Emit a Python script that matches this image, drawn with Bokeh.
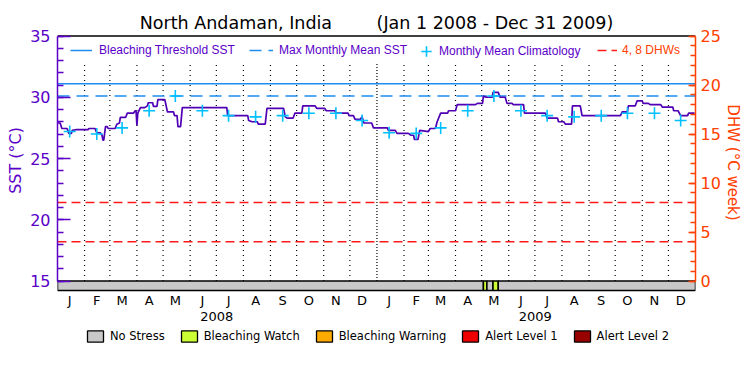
import pandas as pd
from bokeh.plotting import figure
from bokeh.models import (Range1d, LinearAxis, FixedTicker, Legend,
                          LegendItem, ColumnDataSource)
from bokeh.core.properties import value
from bokeh.embed import file_html
from bokeh.resources import INLINE

# ---------------- data ----------------
title_site = "North Andaman, India"
title_period = "(Jan 1 2008 - Dec 31 2009)"

sst_dates = [
    "2008-01-01", "2008-01-04", "2008-01-06", "2008-01-12", "2008-01-14", "2008-01-17",
    "2008-01-18", "2008-01-22", "2008-02-05", "2008-02-06", "2008-02-13", "2008-02-15",
    "2008-02-19", "2008-02-21", "2008-02-22", "2008-02-23", "2008-02-25", "2008-02-27",
    "2008-02-28", "2008-03-07", "2008-03-09", "2008-03-12", "2008-03-13", "2008-03-19",
    "2008-03-21", "2008-03-28", "2008-03-30", "2008-03-31", "2008-04-01", "2008-04-02",
    "2008-04-05", "2008-04-10", "2008-04-13", "2008-04-14", "2008-04-19", "2008-04-20",
    "2008-04-24", "2008-04-25", "2008-05-03", "2008-05-06", "2008-05-13", "2008-05-14",
    "2008-05-17", "2008-05-18", "2008-05-21", "2008-05-23", "2008-07-13", "2008-07-14",
    "2008-08-06", "2008-08-07", "2008-08-11", "2008-08-17", "2008-08-18", "2008-08-26",
    "2008-08-28", "2008-09-16", "2008-09-18", "2008-09-20", "2008-09-27", "2008-09-29",
    "2008-10-07", "2008-10-08", "2008-10-22", "2008-10-24", "2008-11-02", "2008-11-04",
    "2008-11-14", "2008-11-15", "2008-11-29", "2008-11-30", "2008-12-05", "2008-12-07",
    "2008-12-13", "2008-12-15", "2008-12-17", "2008-12-26", "2008-12-28",
    "2009-01-13", "2009-01-14", "2009-01-22", "2009-01-24", "2009-02-06", "2009-02-09",
    "2009-02-12", "2009-02-13", "2009-02-17", "2009-02-19", "2009-03-01", "2009-03-03",
    "2009-03-09", "2009-03-11", "2009-03-15", "2009-03-23", "2009-03-24", "2009-04-01",
    "2009-04-03", "2009-04-24", "2009-04-26", "2009-05-02", "2009-05-03", "2009-05-06",
    "2009-05-13", "2009-05-14", "2009-05-20", "2009-05-22", "2009-05-28", "2009-05-30",
    "2009-06-05", "2009-06-06", "2009-06-18", "2009-06-19", "2009-07-13", "2009-07-15",
    "2009-07-27", "2009-07-28", "2009-08-03", "2009-08-05", "2009-08-12", "2009-08-13",
    "2009-08-22", "2009-08-24", "2009-10-07", "2009-10-09", "2009-10-15", "2009-10-16",
    "2009-10-24", "2009-10-26", "2009-11-01", "2009-11-02", "2009-11-08", "2009-11-10",
    "2009-11-22", "2009-11-24", "2009-12-06", "2009-12-07", "2009-12-12", "2009-12-15",
    "2009-12-23", "2009-12-24", "2009-12-31",
]
sst_values = [
    27.9, 27.9, 27.45, 27.45, 27.05, 27.05,
    27.3, 27.35, 27.35, 27.45, 27.45, 27.1,
    27.1, 26.9, 26.5, 26.5, 27.6, 27.6,
    27.45, 27.45, 27.8, 27.9, 28.35, 28.35,
    28.7, 28.7, 28.9, 28.9, 27.7, 28.7,
    29.15, 29.15, 29.3, 29.55, 29.55, 29.25,
    29.25, 29.8, 29.8, 28.8, 28.8, 28.5,
    28.5, 27.6, 27.6, 29.15, 29.15, 28.5,
    28.5, 28.1, 28.0, 28.0, 27.8, 27.8,
    29.1, 29.1, 28.4, 28.3, 28.3, 28.7,
    28.7, 29.3, 29.3, 29.1, 29.1, 28.9,
    28.9, 28.7, 28.7, 28.5, 28.5, 28.2,
    28.2, 28.4, 27.9, 27.9, 27.5,
    27.5, 27.3, 27.3, 27.05, 27.05, 26.9,
    26.9, 26.55, 26.55, 27.3, 27.2, 27.45,
    27.45, 28.0, 28.7, 28.7, 28.9, 28.9,
    29.4, 29.4, 29.5, 29.5, 30.1, 30.0,
    30.0, 30.4, 30.4, 30.0, 30.0, 29.5,
    29.5, 29.4, 29.4, 28.7, 28.7, 28.3,
    28.3, 28.0, 28.0, 27.8, 27.8, 29.3,
    29.3, 28.5, 28.5, 28.8, 28.8, 29.3,
    29.3, 29.7, 29.7, 29.5, 29.5, 29.4,
    29.4, 29.2, 29.2, 28.9, 28.9, 28.5,
    28.5, 28.7, 28.7,
]

clim_dates = [
    "2008-01-15", "2008-02-15", "2008-03-15", "2008-04-15", "2008-05-15", "2008-06-15",
    "2008-07-15", "2008-08-15", "2008-09-15", "2008-10-15", "2008-11-15", "2008-12-15",
    "2009-01-15", "2009-02-15", "2009-03-15", "2009-04-15", "2009-05-15", "2009-06-15",
    "2009-07-15", "2009-08-15", "2009-09-15", "2009-10-15", "2009-11-15", "2009-12-15",
]
clim_values = [
    27.2, 27.0, 27.5, 28.9, 30.1, 28.9, 28.5, 28.4, 28.5, 28.7, 28.7, 28.1,
    27.1, 27.05, 27.5, 28.9, 30.1, 28.9, 28.5, 28.4, 28.5, 28.7, 28.7, 28.1,
]

threshold_sst = 31.1
mmm_sst = 30.1
dhw_levels = [4, 8]

month_letters = ["J", "F", "M", "A", "M", "J", "J", "A", "S", "O", "N", "D"]
years = ["2008", "2009"]

stress_starts = ["2008-01-01", "2009-05-03", "2009-05-07", "2009-05-14", "2009-05-20"]
stress_ends = ["2009-05-03", "2009-05-07", "2009-05-14", "2009-05-20", "2010-01-01"]
stress_levels = ["No Stress", "Bleaching Watch", "No Stress", "Bleaching Watch", "No Stress"]

stress_names = ["No Stress", "Bleaching Watch", "Bleaching Warning", "Alert Level 1", "Alert Level 2"]
stress_colors = ["#c8c8c8", "#ccff33", "#ffaa00", "#ee0000", "#990000"]

# ---------------- styles / layout ----------------
PURPLE = "#5a00c8"
LINE_PURPLE = "#5000b4"
ORANGE = "#ff4000"
BLUE = "#1e8cf0"
CYAN = "#00c0ff"
DHW_RED = "#ff1a1a"
NBSP = "\u00a0"

W, H = 748, 372
FRAME_L, FRAME_R, FRAME_T, FRAME_B = 57, 695, 34, 352   # picture pixels
Y15_PX, PX_PER_DEG = 280.5, 12.25                       # where 15 degC sits, scale


def deg_at(px):
    """data value (degC) at a vertical picture pixel"""
    return 15.0 - (px - Y15_PX) / PX_PER_DEG


x_start = pd.Timestamp("2008-01-01")
x_end = pd.Timestamp("2010-01-01")
y_start, y_end = deg_at(FRAME_B), deg_at(FRAME_T)
bar_bottom = deg_at(290)
dhw_per_degree = 1.25  # 25 DHW over 20 degC
dhw_range = Range1d((y_start - 15.0) * dhw_per_degree, (y_end - 15.0) * dhw_per_degree)

p = figure(width=W, height=H, x_axis_location=None,
           x_range=Range1d(x_start, x_end), y_range=Range1d(y_start, y_end),
           output_backend="svg", toolbar_location=None,
           min_border_left=FRAME_L, min_border_right=W - FRAME_R,
           min_border_top=FRAME_T, min_border_bottom=H - FRAME_B)
p.extra_y_ranges = {"dhw": dhw_range}
p.xgrid.visible = False
p.ygrid.visible = False
p.outline_line_color = None
p.background_fill_color = "white"
p.border_fill_color = "white"

# title
p.title.text = title_site + NBSP * 8 + title_period
p.title.align = "center"
p.title.text_font = "DejaVu Sans"
p.title.text_font_size = "17.5px"
p.title.text_font_style = "normal"
p.title.text_color = "black"
p.title.standoff = 3

# month boundary dotted lines
month_bounds = pd.date_range("2008-02-01", "2009-12-01", freq="MS")
month_bounds = [d for d in month_bounds if d.month != 1]
year_bounds = [pd.Timestamp("2009-01-01")]
p.segment(x0=month_bounds, x1=month_bounds, y0=15, y1=32.8,
          line_color="black", line_width=1.2, line_dash="1 4")
p.segment(x0=year_bounds, x1=year_bounds, y0=15, y1=32.8,
          line_color="black", line_width=1.2, line_dash="1 2")

# top border of the plotting box
p.line(x=[x_start, x_end], y=[35, 35], line_color="black", line_width=1.5)

# threshold / MMM / DHW lines
r_thr = p.line(x=[x_start, x_end], y=[threshold_sst, threshold_sst],
               line_color=BLUE, line_width=1.5)
r_mmm = p.line(x=[x_start, x_end], y=[mmm_sst, mmm_sst],
               line_color=BLUE, line_width=1.5, line_dash="12 7")
r_dhw = p.multi_line(xs=[[x_start, x_end] for _ in dhw_levels],
                     ys=[[v, v] for v in dhw_levels], y_range_name="dhw",
                     line_color=DHW_RED, line_width=1.5, line_dash="9 5")

# SST line
p.line(x=pd.to_datetime(sst_dates), y=sst_values, line_color=LINE_PURPLE, line_width=1.7)

# climatology crosses
r_clim = p.scatter(x=pd.to_datetime(clim_dates), y=clim_values, marker="cross",
                   size=12, line_color=CYAN, line_width=1.6)

# stress bar
color_of = dict(zip(stress_names, stress_colors))
bar_src = ColumnDataSource(dict(
    left=pd.to_datetime(stress_starts), right=pd.to_datetime(stress_ends),
    color=[color_of[lv] for lv in stress_levels],
))
p.quad(left="left", right="right", bottom=bar_bottom, top=15.0, source=bar_src,
       fill_color="color", line_color="black", line_width=1.5)

# legend-only renderer (one row per stress category, not drawn in the plot)
key_src = ColumnDataSource(dict(
    left=[x_start] * len(stress_names), right=[x_start] * len(stress_names),
    color=stress_colors,
))
r_key = p.quad(left="left", right="right", bottom=bar_bottom, top=bar_bottom,
               source=key_src, fill_color="color", line_color="black", line_width=1.3)
r_key.visible = False

# month letters and years under the bar
month_mid = pd.date_range("2008-01-01", "2009-12-01", freq="MS") + pd.Timedelta(days=14)
p.text(x=month_mid, y=deg_at(299.5), text=[month_letters[d.month - 1] for d in month_mid],
       text_font=value("DejaVu Sans"), text_font_size="13px", text_color="black",
       text_align="center", text_baseline="middle")
year_mid = [pd.Timestamp(f"{yr}-07-01") + pd.Timedelta(hours=12) for yr in years]
p.text(x=year_mid, y=deg_at(315.5), text=years,
       text_font=value("DejaVu Sans"), text_font_size="13px", text_color="black",
       text_align="center", text_baseline="middle")

# ---------------- axes ----------------
yax = p.yaxis[0]
yax.ticker = FixedTicker(ticks=[15, 20, 25, 30, 35], minor_ticks=list(range(15, 36)))
yax.bounds = (15, 35)
yax.axis_line_color = PURPLE
yax.axis_line_width = 1.5
yax.major_tick_line_color = PURPLE
yax.major_tick_line_width = 1.5
yax.minor_tick_line_color = PURPLE
yax.minor_tick_line_width = 1.5
yax.major_tick_in = 13
yax.major_tick_out = 0
yax.minor_tick_in = 6
yax.minor_tick_out = 0
yax.major_label_standoff = 7
yax.major_label_text_font = "DejaVu Sans"
yax.major_label_text_font_size = "16px"
yax.major_label_text_color = PURPLE
# the label is centred on the whole frame; leading padding lifts it to the SST span
yax.axis_label = NBSP * 13 + "SST (°C)"
yax.axis_label_text_font = "DejaVu Sans"
yax.axis_label_text_font_size = "16px"
yax.axis_label_text_font_style = "normal"
yax.axis_label_text_color = PURPLE
yax.axis_label_standoff = 2

rax = LinearAxis(y_range_name="dhw",
                 ticker=FixedTicker(ticks=[0, 5, 10, 15, 20, 25], minor_ticks=list(range(0, 26))),
                 bounds=(0, 25))
rax.axis_line_color = ORANGE
rax.axis_line_width = 1.5
rax.major_tick_line_color = ORANGE
rax.major_tick_line_width = 1.5
rax.minor_tick_line_color = ORANGE
rax.minor_tick_line_width = 1.5
rax.major_tick_in = 7
rax.major_tick_out = 0
rax.minor_tick_in = 5
rax.minor_tick_out = 0
rax.major_label_standoff = 5
rax.major_label_text_font = "DejaVu Sans"
rax.major_label_text_font_size = "16px"
rax.major_label_text_color = ORANGE
rax.axis_label = "DHW (°C week)" + NBSP * 13
rax.axis_label_text_font = "DejaVu Sans"
rax.axis_label_text_font_size = "15px"
rax.axis_label_text_font_style = "normal"
rax.axis_label_text_color = ORANGE
rax.axis_label_standoff = 0
p.add_layout(rax, "right")

# ---------------- legends ----------------
def legend_at(items, x, y, gw, gh, standoff, color, font, size="12px", spacing=0):
    leg = Legend(items=items, location=(x, y), orientation="horizontal",
                 glyph_width=gw, glyph_height=gh, label_height=gh, label_width=10,
                 label_standoff=standoff, padding=0, margin=0, spacing=spacing,
                 background_fill_alpha=0, border_line_alpha=0,
                 inactive_fill_alpha=0,
                 label_text_font=font, label_text_font_size=size,
                 label_text_color=color)
    p.add_layout(leg, "center")


row_y = FRAME_B - 50.5  # legend row centre, measured up from the frame bottom
legend_at([LegendItem(label="Bleaching Threshold SST", renderers=[r_thr])],
          13, row_y - 6, 22, 12, 7, PURPLE, "Liberation Sans")
legend_at([LegendItem(label="Max Monthly Mean SST", renderers=[r_mmm])],
          192, row_y - 6, 24, 12, 6, PURPLE, "Liberation Sans")
legend_at([LegendItem(label="Monthly Mean Climatology", renderers=[r_clim])],
          356, row_y - 13, 26, 26, 0, PURPLE, "Liberation Sans")
legend_at([LegendItem(label="4, 8 DHWs", renderers=[r_dhw])],
          540, row_y - 6, 20, 12, 5, ORANGE, "Liberation Sans")

stress_y = FRAME_B - 335.5
legend_at([LegendItem(label=n, renderers=[r_key], index=i) for i, n in enumerate(stress_names)],
          28, stress_y - 7, 20, 14, 5, "black", "DejaVu Sans", size="11.5px", spacing=14)

open("out.html", "w").write(file_html(p, INLINE))
